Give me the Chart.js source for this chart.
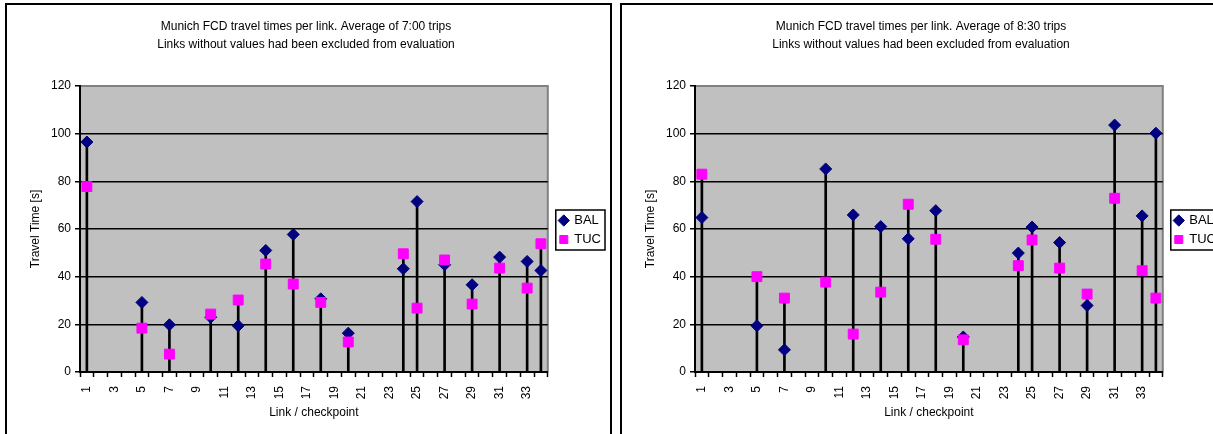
<!DOCTYPE html>
<html>
<head>
<meta charset="utf-8">
<script src="https://cdn.jsdelivr.net/npm/chart.js@4/dist/chart.umd.min.js"></script>
<style>
  html, body { margin: 0; padding: 0; background: #fff; overflow: hidden; width: 1213px; height: 434px; }
  .panel { position: absolute; top: 3px; width: 607px; height: 445px; border: 2px solid #000; box-sizing: border-box; background: #fff; }
  #panel1 { left: 5px; }
  #panel2 { left: 620px; }
  canvas { display: block; }
</style>
</head>
<body>
<div class="panel" id="panel1"><canvas id="chart700" width="603" height="430"></canvas></div>
<div class="panel" id="panel2"><canvas id="chart830" width="603" height="430"></canvas></div>
<script>
// Link / checkpoint categories
const links = ['1', '2', '3', '4', '5', '6', '7', '8', '9', '10', '11', '12', '13', '14', '15', '16', '17',
  '18', '19', '20', '21', '22', '23', '24', '25', '26', '27', '28', '29', '30', '31', '32', '33', '34'];

// 7:00 trips
const bal700 = [96.5, null, null, null, 29.2, null, 19.8, null, null, 23.0, null, 19.4, null, 51.0, null, 57.7, null,
  30.7, null, 16.3, null, null, null, 43.3, 71.5, null, 45.0, null, 36.6, null, 48.2, null, 46.4, 42.6];
const tuc700 = [77.8, null, null, null, 18.4, null, 7.5, null, null, 24.3, null, 30.2, null, 45.3, null, 36.9, null,
  29.2, null, 12.6, null, null, null, 49.6, 26.8, null, 47.0, null, 28.5, null, 43.6, null, 35.2, 53.8];

// 8:30 trips
const bal830 = [64.8, null, null, null, 19.4, null, 9.3, null, null, 85.2, null, 65.9, null, 61.0, null, 55.9, null,
  67.7, null, 14.7, null, null, null, 49.9, 60.8, null, 54.3, null, 27.9, null, 103.6, null, 65.5, 100.2];
const tuc830 = [83.0, null, null, null, 40.0, null, 31.0, null, null, 37.7, null, 15.9, null, 33.5, null, 70.4, null,
  55.7, null, 13.5, null, null, null, 44.6, 55.4, null, 43.6, null, 32.7, null, 72.9, null, 42.5, 31.0];

const yMax = 120;
const yStep = 20;

Chart.defaults.font.family = '"Liberation Sans", Arial, sans-serif';
Chart.defaults.color = '#000';

// grey plot area + legend frame, like the old spreadsheet charts
const plotFrame = {
  id: 'plotFrame',
  afterLayout(chart) {
    // legend sits a bit away from the plot and a bit lower
    const lg = chart.legend;
    lg.left += 6; lg.right += 6;
    lg.top += 10; lg.bottom += 10;
  },
  beforeDraw(chart) {
    const { ctx, chartArea: a } = chart;
    ctx.save();
    ctx.fillStyle = '#c0c0c0';
    ctx.fillRect(a.left, a.top, a.right - a.left, a.bottom - a.top);
    ctx.strokeStyle = '#808080';
    ctx.lineWidth = 2;
    ctx.strokeRect(a.left, a.top, a.right - a.left, a.bottom - a.top);
    ctx.restore();
  },
  afterDraw(chart) {
    const boxes = chart.legend.legendHitBoxes;
    if (!boxes || !boxes.length) return;
    const left = Math.min(...boxes.map((b) => b.left)) - 4;
    const top = Math.min(...boxes.map((b) => b.top)) - 4;
    const right = Math.max(...boxes.map((b) => b.left + b.width)) + 4;
    const bottom = Math.max(...boxes.map((b) => b.top + b.height)) + 4;
    const ctx = chart.ctx;
    ctx.save();
    ctx.strokeStyle = '#000';
    ctx.lineWidth = 1.5;
    ctx.strokeRect(left, top, right - left, bottom - top);
    ctx.restore();
  },
};

// drop line goes up to the higher of the two markers
function dropTops(a, b) {
  return a.map((v, i) => (v == null && b[i] == null ? null : Math.max(v ?? 0, b[i] ?? 0)));
}

function createChart(canvasId, time, bal, tuc) {
  const ctx = document.getElementById(canvasId).getContext('2d');
  return new Chart(ctx, {
    type: 'line',
    data: {
      labels: links,
      datasets: [
        {
          label: 'BAL',
          data: bal,
          showLine: false,
          pointStyle: 'rectRot',
          pointRadius: 6,
          pointHoverRadius: 6,
          backgroundColor: '#000080',
          borderColor: '#000080',
          borderWidth: 1,
          order: 2,
        },
        {
          label: 'TUC',
          data: tuc,
          showLine: false,
          pointStyle: 'rect',
          pointRadius: 7,
          pointHoverRadius: 7,
          backgroundColor: '#ff00ff',
          borderColor: '#ff00ff',
          borderWidth: 1,
          order: 1,
        },
        {
          type: 'bar',
          label: 'drop',
          data: dropTops(bal, tuc),
          backgroundColor: '#000',
          barThickness: 2,
          order: 3,
        },
      ],
    },
    options: {
      responsive: false,
      animation: false,
      devicePixelRatio: 1,
      events: [],
      layout: { padding: { left: 0, right: 5, top: 0, bottom: 0 } },
      plugins: {
        title: {
          display: true,
          text: [
            'Munich FCD travel times per link. Average of ' + time + ' trips',
            'Links without values had been excluded from evaluation',
          ],
          color: '#000',
          font: { size: 12, weight: 'normal', lineHeight: 1.5 },
          padding: { top: 13, bottom: 32 },
        },
        legend: {
          position: 'right',
          labels: {
            usePointStyle: true,
            boxWidth: 8,
            boxHeight: 8,
            padding: 6,
            color: '#000',
            font: { size: 13 },
            filter: (item) => item.datasetIndex < 2,
            sort: (a, b) => a.datasetIndex - b.datasetIndex,
          },
        },
        tooltip: { enabled: false },
      },
      scales: {
        x: {
          offset: true,
          grid: { offset: true, drawOnChartArea: false, tickLength: 5, tickColor: '#000', tickWidth: 1.5 },
          border: { color: '#000', width: 2 },
          ticks: {
            autoSkip: false,
            minRotation: 90,
            maxRotation: 90,
            padding: 9,
            color: '#000',
            font: { size: 12 },
            callback: (v, i) => (i % 2 === 0 ? links[i] : ''),
          },
          title: {
            display: true,
            text: 'Link / checkpoint',
            color: '#000',
            font: { size: 12 },
            padding: { top: 0, bottom: 15 },
          },
          afterFit: (s) => { s.height = 63; },
        },
        y: {
          min: 0,
          max: yMax,
          ticks: { stepSize: yStep, padding: 4, color: '#000', font: { size: 12 } },
          grid: {
            color: (c) => (c.tick && c.tick.value === yMax ? 'rgba(0,0,0,0)' : '#000'),
            lineWidth: 1.5,
            tickLength: 5,
            tickColor: '#000',
            tickWidth: 1.5,
          },
          border: { color: '#000', width: 2 },
          title: {
            display: true,
            text: 'Travel Time [s]',
            color: '#000',
            font: { size: 12 },
            padding: { top: 21, bottom: 0 },
          },
          afterFit: (s) => { s.width = 73; },
        },
      },
    },
    plugins: [plotFrame],
  });
}

createChart('chart700', '7:00', bal700, tuc700);
createChart('chart830', '8:30', bal830, tuc830);
</script>
</body>
</html>
